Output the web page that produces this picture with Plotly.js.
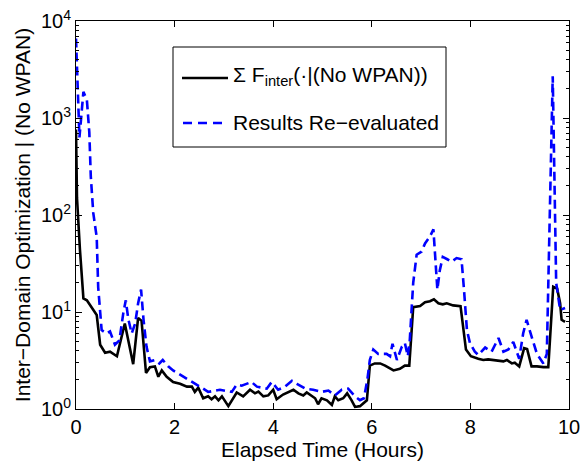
<!DOCTYPE html>
<html>
<head>
<meta charset="utf-8">
<script src="https://cdn.plot.ly/plotly-3.0.1.min.js"></script>
<style>html,body{margin:0;padding:0;background:#fff;}#chart{width:581px;height:466px;}</style>
</head>
<body>
<div id="chart"></div>
<script>
// Elapsed time (hours) and values for the black series
const hoursF = [0.00,0.02,0.08,0.15,0.22,0.32,0.42,0.49,0.59,0.69,0.83,0.99,1.05,1.16,1.26,1.33,1.42,1.50,1.60,1.67,1.74,1.84,1.97,2.11,2.25,2.35,2.41,2.48,2.58,2.68,2.75,2.82,2.89,2.96,3.09,3.26,3.39,3.53,3.63,3.70,3.80,3.90,4.00,4.07,4.20,4.41,4.51,4.61,4.68,4.78,4.85,4.91,4.98,5.09,5.19,5.25,5.32,5.42,5.50,5.59,5.66,5.76,5.90,5.96,6.06,6.17,6.27,6.44,6.57,6.67,6.76,6.84,6.98,7.08,7.18,7.26,7.35,7.44,7.52,7.65,7.80,7.91,8.01,8.16,8.26,8.36,8.46,8.57,8.67,8.74,8.84,8.90,8.99,9.09,9.15,9.24,9.35,9.48,9.58,9.68,9.76,9.82,9.85,9.92];
const valuesF = [760,150,44,13.8,13.2,11,9.3,4.6,3.8,3.9,3.5,7.6,5.5,2.9,8.7,8.1,2.35,2.7,2.75,2.15,2.5,2.15,1.9,1.82,1.7,1.7,1.5,1.66,1.29,1.35,1.26,1.35,1.23,1.35,1.07,1.48,1.35,1.58,1.45,1.51,1.35,1.38,1.58,1.26,1.41,1.58,1.45,1.38,1.48,1.35,1.29,1.12,1.29,1.23,1.10,1.35,1.23,1.29,1.45,1.23,1.05,1.07,1.23,2.8,2.95,2.95,2.8,2.5,2.6,2.8,2.8,11.2,11.5,12.6,12.9,13.5,12.3,12,12.3,11.7,11.5,4.1,3.5,3.3,3.2,3.25,3.2,3.2,3.1,3.2,2.95,3.0,2.75,4.25,4.15,2.75,2.75,2.7,2.7,18.2,17.4,12.3,8.3,7.9];

// Elapsed time (hours) and values for the re-evaluated (blue dashed) series
const hoursR = [0.00,0.05,0.07,0.15,0.22,0.27,0.30,0.35,0.42,0.45,0.52,0.62,0.69,0.79,0.88,0.96,1.01,1.06,1.13,1.20,1.26,1.32,1.37,1.43,1.50,1.60,1.69,1.76,1.87,1.97,2.18,2.38,2.58,2.68,2.92,3.16,3.26,3.36,3.56,3.67,3.87,3.97,4.10,4.24,4.38,4.48,4.65,4.81,4.98,5.12,5.25,5.39,5.52,5.66,5.76,5.84,5.91,5.96,6.03,6.13,6.20,6.30,6.37,6.42,6.51,6.61,6.67,6.73,6.77,6.84,6.91,7.01,7.08,7.18,7.25,7.28,7.33,7.38,7.44,7.53,7.62,7.72,7.82,7.87,7.93,7.99,8.09,8.16,8.30,8.43,8.57,8.67,8.77,8.87,8.99,9.07,9.14,9.24,9.35,9.48,9.55,9.67,9.74,9.82,9.92];
const valuesR = [6600,890,630,1860,1550,710,250,105,59,18,6.5,6.0,6.3,4.6,5.1,9.8,13.2,8.5,6.0,7.6,12.3,17,8.3,4.4,3.1,3.2,2.95,3.2,2.75,2.5,2.15,1.9,1.62,1.5,1.58,1.5,1.78,1.74,1.9,1.7,1.62,1.9,1.58,1.7,1.95,1.82,1.62,1.58,1.5,1.55,1.38,1.58,1.62,1.35,1.23,1.29,2.0,3.2,4.1,3.7,3.7,3.7,3.5,4.7,3.2,4.4,4.8,3.5,5.1,20,39,42,51,60,71,37,17,27,37,35,33,36,35,17,6.5,4.8,3.9,3.6,4.3,3.9,5.4,3.9,4.1,4.9,3.3,6.0,8.3,5.6,3.7,2.95,3.7,2700,20,10.5,11];

const xTicks = [0,2,4,6,8,10];
const yTicks = [1,10,100,1000,10000];
const yTickText = ['10<sup>0</sup>','10<sup>1</sup>','10<sup>2</sup>','10<sup>3</sup>','10<sup>4</sup>'];
const nameF = 'Σ F<sub>inter</sub>(·|(No WPAN))';
const nameR = 'Results Re−evaluated';

const minorY = [];
for (let k = 0; k < 4; k++) for (let m = 2; m <= 9; m++) minorY.push(m * Math.pow(10, k));

const FAM = '"Liberation Sans", Arial, sans-serif';
const tickFont = {family: FAM, size: 20, color: '#000'};
const titleFont = {family: FAM, size: 21, color: '#000'};

const traces = [
  {x: hoursF, y: valuesF, type: 'scatter', mode: 'lines', name: nameF,
   line: {color: '#000000', width: 2.6}},
  {x: hoursR, y: valuesR, type: 'scatter', mode: 'lines', name: nameR,
   line: {color: '#0000ff', width: 2.6, dash: '9px,5px'}}
];

// legend drawn in pixel terms converted to paper coordinates
const PL = 76, PR = 569, PT = 21, PB = 409;
const px = v => (v - PL) / (PR - PL);
const py = v => (PB - v) / (PB - PT);

const shapes = [
  {type: 'rect', xref: 'paper', yref: 'paper', x0: px(173), x1: px(446), y0: py(147), y1: py(47),
   fillcolor: '#fff', line: {color: '#000', width: 1}, layer: 'above'},
  {type: 'line', xref: 'paper', yref: 'paper', x0: px(182), x1: px(228), y0: py(78), y1: py(78),
   line: {color: '#000', width: 2.6}, layer: 'above'},
  {type: 'line', xref: 'paper', yref: 'paper', x0: px(183), x1: px(228), y0: py(123), y1: py(123),
   line: {color: '#0000ff', width: 2.6, dash: '9px,6px'}, layer: 'above'}
];

const annotations = [
  {xref: 'paper', yref: 'paper', x: px(231), y: py(76), xanchor: 'left', yanchor: 'middle',
   text: nameF, showarrow: false, font: titleFont},
  {xref: 'paper', yref: 'paper', x: px(231), y: py(123), xanchor: 'left', yanchor: 'middle',
   text: nameR, showarrow: false, font: titleFont}
];

const axisCommon = {
  showline: true, linecolor: '#000', linewidth: 1, mirror: 'ticks',
  ticks: 'inside', ticklen: 6, tickcolor: '#000', tickwidth: 1,
  showgrid: false, zeroline: false, tickfont: tickFont
};

const layout = {
  width: 581, height: 466,
  margin: {l: PL, r: 581 - PR, t: PT, b: 466 - PB},
  paper_bgcolor: '#fff', plot_bgcolor: '#fff',
  font: tickFont,
  showlegend: false,
  shapes: shapes,
  annotations: annotations,
  xaxis: Object.assign({}, axisCommon, {
    range: [0, 10], tickvals: xTicks, ticktext: xTicks.map(String),
    title: {text: 'Elapsed Time (Hours)', font: titleFont, standoff: 2}
  }),
  yaxis: Object.assign({}, axisCommon, {
    type: 'log', range: [0, 4], tickvals: yTicks, ticktext: yTickText,
    minor: {tickvals: minorY, ticks: 'inside', ticklen: 3, tickcolor: '#000', showgrid: false},
    title: {text: 'Inter−Domain Optimization | (No WPAN)', font: titleFont, standoff: 4}
  })
};

Plotly.newPlot('chart', traces, layout, {displayModeBar: false, staticPlot: true});
</script>
</body>
</html>
